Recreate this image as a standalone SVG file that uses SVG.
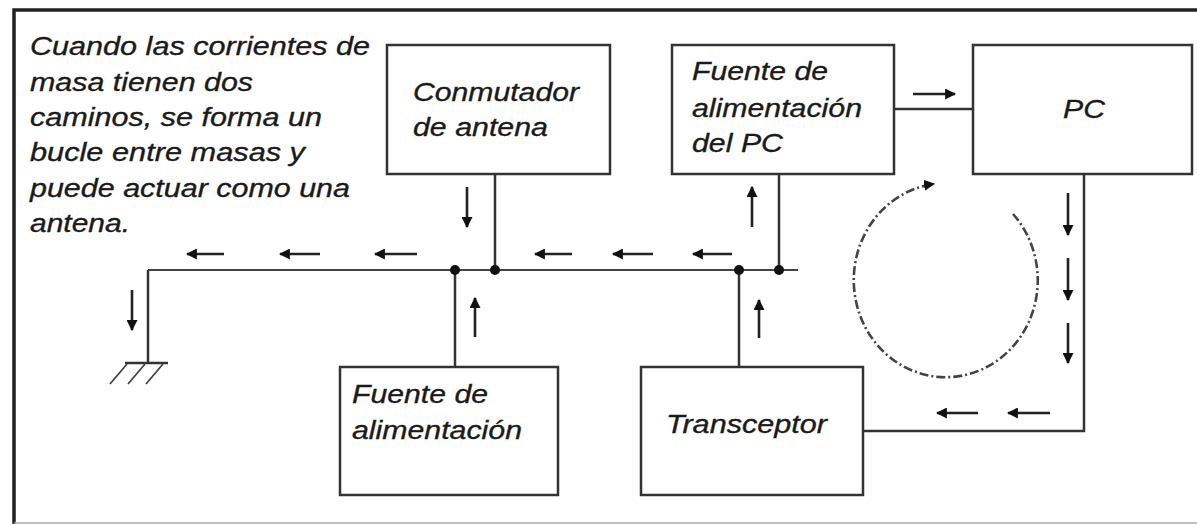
<svg xmlns="http://www.w3.org/2000/svg" width="1197" height="524" viewBox="0 0 1197 524">
<style>
.box{fill:#fff;stroke:#333;stroke-width:2.5}
.t{font-family:"Liberation Sans",Arial,sans-serif;font-style:italic;font-size:26.5px;fill:#1a1a1a;stroke:#1a1a1a;stroke-width:0.35}
.w{fill:none;stroke:#333;stroke-width:2.5}
.bus{fill:none;stroke:#444;stroke-width:2}
.ar{fill:none;stroke:#222;stroke-width:2.6}
.dot{fill:#111}
.loop{fill:none;stroke:#444;stroke-width:2.6;stroke-dasharray:9 3 2 3}
</style>
<defs>
<marker id="ah" viewBox="0 0 10 10" refX="9" refY="5" markerWidth="11" markerHeight="11" markerUnits="userSpaceOnUse" orient="auto"><path d="M0,0 L10,5 L0,10 z" fill="#111"/></marker>
</defs>
<rect width="1197" height="524" fill="#fff"/>
<g id="frame">
<path d="M14,524 V10 H1197" fill="none" stroke="#222" stroke-width="3.5"/>
<path d="M14,523 H1197" fill="none" stroke="#aaa" stroke-width="1.5"/>
</g>
<g id="note">
<text class="t" x="30" y="55" textLength="340" lengthAdjust="spacingAndGlyphs">Cuando las corrientes de</text>
<text class="t" x="30" y="91" textLength="223" lengthAdjust="spacingAndGlyphs">masa tienen dos</text>
<text class="t" x="30" y="126" textLength="292" lengthAdjust="spacingAndGlyphs">caminos, se forma un</text>
<text class="t" x="30" y="161" textLength="275" lengthAdjust="spacingAndGlyphs">bucle entre masas y</text>
<text class="t" x="30" y="197" textLength="320" lengthAdjust="spacingAndGlyphs">puede actuar como una</text>
<text class="t" x="30" y="232" textLength="100" lengthAdjust="spacingAndGlyphs">antena.</text>
</g>
<g id="connectors">
<path class="bus" d="M148,270 H798"/>
<path class="w" d="M148,270 V363"/>
<path class="w" d="M495,174 V270"/>
<path class="w" d="M779,174 V270"/>
<path class="w" d="M455,270 V367"/>
<path class="w" d="M739,270 V367"/>
<path class="w" d="M894,109 H973"/>
<path class="w" d="M1084,174 V431 H863"/>
<circle class="dot" cx="455" cy="270" r="5"/>
<circle class="dot" cx="495" cy="270" r="5"/>
<circle class="dot" cx="739" cy="270" r="5"/>
<circle class="dot" cx="779" cy="270" r="5"/>
<path class="ar" marker-end="url(#ah)" d="M224,254 H187"/>
<path class="ar" marker-end="url(#ah)" d="M320,254 H280"/>
<path class="ar" marker-end="url(#ah)" d="M417,254 H375"/>
<path class="ar" marker-end="url(#ah)" d="M572,254 H535"/>
<path class="ar" marker-end="url(#ah)" d="M653,254 H613"/>
<path class="ar" marker-end="url(#ah)" d="M732,254 H693"/>
<path class="ar" marker-end="url(#ah)" d="M467,187 V227"/>
<path class="ar" marker-end="url(#ah)" d="M752,227 V187"/>
<path class="ar" marker-end="url(#ah)" d="M475,337 V298"/>
<path class="ar" marker-end="url(#ah)" d="M759,338 V300"/>
<path class="ar" marker-end="url(#ah)" d="M132,290 V330"/>
<path class="ar" marker-end="url(#ah)" d="M913,94 H955"/>
<path class="ar" marker-end="url(#ah)" d="M1068,193 V235"/>
<path class="ar" marker-end="url(#ah)" d="M1068,258 V300"/>
<path class="ar" marker-end="url(#ah)" d="M1068,323 V363"/>
<path class="ar" marker-end="url(#ah)" d="M978,413 H937"/>
<path class="ar" marker-end="url(#ah)" d="M1050,413 H1008"/>
</g>
<g id="loop">
<path class="loop" marker-end="url(#ah)" d="M1013,214 A92,97 0 1 1 934,184"/>
</g>
<g id="ground">
<path class="w" d="M125,363 H168"/>
<path fill="none" stroke="#444" stroke-width="1.8" d="M127,364 L110,384 M145,364 L128,384 M163,364 L146,384"/>
</g>
<g id="conmutador">
<rect class="box" x="387" y="45" width="223" height="129"/>
<text class="t" x="413" y="101" textLength="166" lengthAdjust="spacingAndGlyphs">Conmutador</text>
<text class="t" x="413" y="136" textLength="135" lengthAdjust="spacingAndGlyphs">de antena</text>
</g>
<g id="fuente-pc">
<rect class="box" x="672" y="45" width="222" height="129"/>
<text class="t" x="692" y="80" textLength="136" lengthAdjust="spacingAndGlyphs">Fuente de</text>
<text class="t" x="692" y="117" textLength="170" lengthAdjust="spacingAndGlyphs">alimentación</text>
<text class="t" x="692" y="152" textLength="91" lengthAdjust="spacingAndGlyphs">del PC</text>
</g>
<g id="pc">
<rect class="box" x="973" y="45" width="219" height="129"/>
<text class="t" x="1063" y="118" textLength="42" lengthAdjust="spacingAndGlyphs">PC</text>
</g>
<g id="fuente-alim">
<rect class="box" x="340" y="367" width="218" height="128"/>
<text class="t" x="352" y="403" textLength="136" lengthAdjust="spacingAndGlyphs">Fuente de</text>
<text class="t" x="352" y="439" textLength="170" lengthAdjust="spacingAndGlyphs">alimentación</text>
</g>
<g id="transceptor">
<rect class="box" x="641" y="367" width="222" height="128"/>
<text class="t" x="666" y="433" textLength="161" lengthAdjust="spacingAndGlyphs">Transceptor</text>
</g>
</svg>
